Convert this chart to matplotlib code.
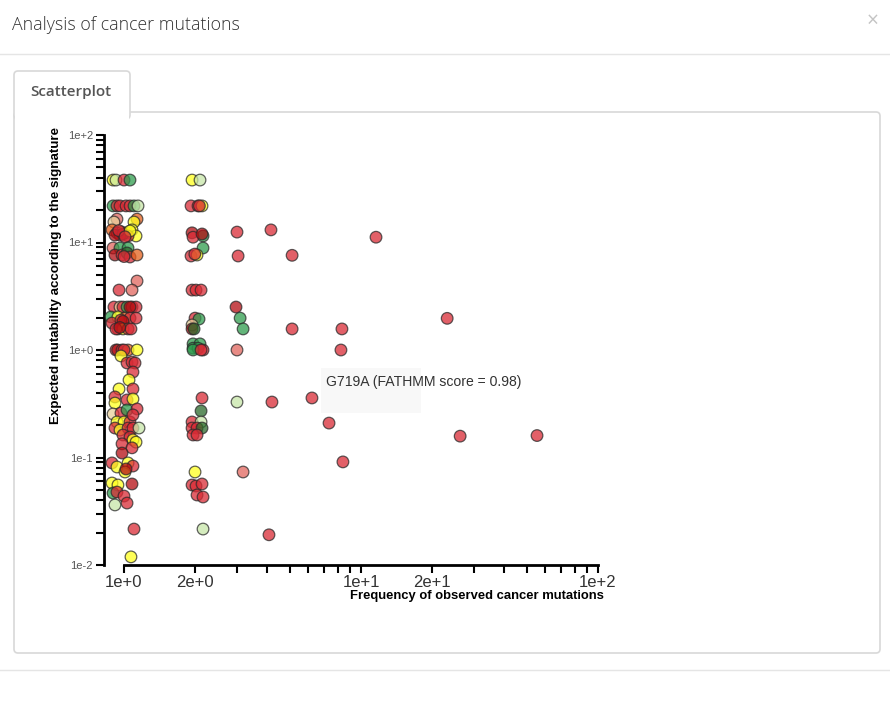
import matplotlib.pyplot as plt
from matplotlib.patches import FancyBboxPatch, Rectangle
from matplotlib.ticker import FixedLocator, FixedFormatter, NullFormatter, LogLocator

plt.rcParams['font.family'] = ['Liberation Sans', 'DejaVu Sans']

# mutation frequency (jittered), expected mutability, colour class (FATHMM score band)
freq = [
    # around 1
    0.899, 0.925, 1.0, 1.06,
    0.899, 0.934, 0.962, 1.02, 1.06, 1.102, 1.146,
    0.934, 1.135, 0.907, 1.102, 0.89, 0.934, 0.981, 1.03, 1.081, 1.124, 1.04, 0.962, 0.916, 0.99, 1.06, 0.95, 1.01,
    0.899, 0.962, 1.04, 0.916, 0.981, 1.03, 1.06, 1.135, 1.0,
    1.135, 0.953, 1.081,
    0.907, 0.962, 0.99, 1.03, 1.081, 1.124, 1.06,
    0.881, 0.943, 1.01, 1.06, 1.124, 0.89, 0.97, 0.99,
    0.943, 0.99, 1.04, 0.925, 1.07, 0.96,
    0.925, 0.94, 0.981, 1.04, 1.135, 1.0,
    0.971, 1.03, 1.081, 1.113, 1.091, 1.05, 0.953, 1.091, 0.916, 0.916, 1.03, 1.091,
    0.899, 0.971, 1.03, 1.135, 0.934, 1.0, 1.06, 1.091, 0.916, 0.962, 1.04, 1.091, 1.157,
    0.99, 1.06, 1.091, 1.124, 0.981, 1.081, 0.981,
    0.89, 0.934, 1.04, 1.091, 1.01, 1.02, 0.89, 0.943, 1.081, 0.899, 0.934, 1.0, 1.03, 0.916,
    1.102, 1.07,
    # around 2
    1.937, 2.093,
    1.918, 2.053, 2.134, 2.08,
    2.155, 1.937, 1.956, 2.134,
    2.155, 1.918, 2.033, 1.99,
    1.937, 2.013, 2.114,
    1.994, 2.073, 1.937, 1.937, 1.975,
    1.956, 2.093, 1.956, 2.053, 2.155, 1.956, 2.114,
    2.134, 2.114, 1.937, 2.114, 1.937, 2.033, 2.134, 1.956, 2.033,
    1.994, 1.937, 2.013, 2.134, 2.033, 2.155, 2.155,
    # sparse
    2.998, 4.17, 11.57, 3.03, 5.12, 2.969, 3.09, 3.18, 5.12, 8.31, 2.998, 8.23, 23.1,
    2.998, 4.21, 6.21, 7.33, 8.39, 26.2, 55.3, 3.18, 4.09,
]
mut = [
    38.1, 38.1, 38.1, 38.1,
    21.9, 21.9, 21.9, 21.9, 21.9, 21.9, 21.9,
    16.5, 16.5, 15.5, 15.5, 13.1, 12.3, 12.5, 12.3, 13.1, 11.5, 11.5, 11.7, 11.7, 12.0, 12.8, 12.9, 11.3,
    8.89, 8.89, 8.89, 7.65, 7.65, 7.99, 7.33, 7.65, 7.4,
    4.38, 3.61, 3.61,
    2.51, 2.51, 2.51, 2.51, 2.51, 2.51, 2.51,
    2.03, 2.03, 1.98, 1.98, 1.98, 1.78, 1.9, 1.85,
    1.57, 1.57, 1.57, 1.57, 1.57, 1.62,
    1.0, 1.0, 1.0, 1.0, 1.0, 1.0,
    0.88, 0.757, 0.773, 0.757, 0.624, 0.526, 0.434, 0.434, 0.366, 0.321, 0.343, 0.350,
    0.254, 0.259, 0.277, 0.283, 0.214, 0.214, 0.214, 0.249, 0.188, 0.180, 0.188, 0.188, 0.188,
    0.162, 0.155, 0.146, 0.139, 0.134, 0.123, 0.110,
    0.089, 0.0816, 0.089, 0.0833, 0.0733, 0.0782, 0.0579, 0.0555, 0.0567, 0.0467, 0.0477, 0.0438, 0.0377, 0.0362,
    0.0216, 0.0119,
    38.1, 38.1,
    21.9, 21.9, 21.9, 21.9,
    11.5, 12.3, 11.2, 12.0,
    8.89, 7.49, 7.65, 7.8,
    3.61, 3.61, 3.61,
    1.98, 1.94, 1.71, 1.57, 1.57,
    1.14, 1.14, 1.04, 1.04, 1.0, 1.0, 1.0,
    0.358, 0.271, 0.214, 0.214, 0.188, 0.188, 0.188, 0.162, 0.162,
    0.0733, 0.0555, 0.0543, 0.0567, 0.0448, 0.0429, 0.0216,
    12.5, 13.1, 11.2, 7.49, 7.6, 2.51, 1.98, 1.57, 1.57, 1.57, 1.0, 1.0, 1.97,
    0.328, 0.328, 0.358, 0.209, 0.091, 0.158, 0.16, 0.0733, 0.0191,
]
kind = list(
    "ylrg"
    "grrrrgl"
    "sotyororyyrrddyrr"
    "sggdrkror"
    "srs"
    "rtrgrrd"
    "gyorrrrd"
    "ryrrrd"
    "rdroyr"
    "yrrrryyrryry"
    "trgryyrrryrrl"
    "rryyrrd"
    "ryyrydyydgrrrl"
    "ry"
    "yl"
    "rryr"
    "gdrd"
    "gryr"
    "rrr"
    "rgtdk"
    "ggggrgr"
    "rkrlrrkrr"
    "yrrrrrl"
    "rrrrrdggrrsrr"
    "lrrrrrrsr"
)

palette = {
    'r': '#d92b35', 'd': '#b30d12', 's': '#e1665e', 'o': '#e5601c',
    'y': '#ffff1f', 't': '#e8cf9a', 'l': '#c8e6a8', 'g': '#2f9c4e', 'k': '#2b6a2b',
}

x_ticks = [1, 2, 10, 20, 100]
x_labels = ['1e+0', '2e+0', '1e+1', '2e+1', '1e+2']
x_minor = [3, 4, 5, 6, 7, 8, 9, 30, 40, 50, 60, 70, 80, 90]
y_ticks = [0.01, 0.1, 1, 10, 100]
y_labels = ['1e-2', '1e-1', '1e+0', '1e+1', '1e+2']

W, H = 890, 701
fig = plt.figure(figsize=(W / 100, H / 100), dpi=100)
fig.patch.set_facecolor('white')

ax = fig.add_axes([104 / W, 1 - 565 / H, (598 - 104) / W, (565 - 135) / H])
ax.set_xscale('log')
ax.set_yscale('log')
ax.set_xlim(10 ** (-20 / 237), 100)
ax.set_ylim(0.01, 100)

ax.scatter(freq, mut, c=[palette[k] for k in kind], s=70, alpha=0.75,
           edgecolors='#2a2a2a', linewidths=0.9, zorder=3, clip_on=False)

for side in ['top', 'right']:
    ax.spines[side].set_visible(False)
ax.spines['left'].set_linewidth(2)
ax.spines['bottom'].set_linewidth(2)
ax.spines['bottom'].set_bounds(1, 100)

ax.xaxis.set_major_locator(FixedLocator(x_ticks))
ax.xaxis.set_major_formatter(FixedFormatter(x_labels))
ax.xaxis.set_minor_locator(FixedLocator(x_minor))
ax.xaxis.set_minor_formatter(NullFormatter())
ax.yaxis.set_major_locator(FixedLocator(y_ticks))
ax.yaxis.set_major_formatter(FixedFormatter(y_labels))
ax.yaxis.set_minor_locator(LogLocator(base=10, subs=range(2, 10)))
ax.yaxis.set_minor_formatter(NullFormatter())
ax.tick_params(which='both', length=6, width=1.5, color='black')
ax.tick_params(axis='x', labelsize=12, labelcolor='#333333', pad=1.5)
ax.tick_params(axis='y', labelsize=8, labelcolor='#555555', pad=2)

fig.text(604 / W, 1 - 596 / H, 'Frequency of observed cancer mutations',
         ha='right', va='center', fontsize=9.4, fontweight='bold', color='black')
fig.text(56 / W, 1 - 276 / H, 'Expected mutability according to the signature',
         ha='center', va='center', rotation=90, fontsize=9.6, fontweight='bold', color='black')

# dialog chrome drawn in pixel space on top
ov = fig.add_axes([0, 0, 1, 1], zorder=5)
ov.set_xlim(0, W)
ov.set_ylim(H, 0)
ov.axis('off')
ov.patch.set_alpha(0)

ov.text(12, 25, 'Analysis of cancer mutations', fontsize=12.8, color='#333333',
        family=['Open Sans', 'DejaVu Sans'], fontweight='light', va='center', ha='left')
ov.text(873, 21, '×', fontsize=15, color='#c4c4c4', va='center', ha='center',
        family=['Open Sans', 'DejaVu Sans'])
ov.plot([0, W], [54, 54], color='#e5e5e5', lw=1)
ov.plot([0, W], [670, 670], color='#e5e5e5', lw=1)

ov.add_patch(FancyBboxPatch((14, 112), 866, 541, boxstyle='round,pad=0,rounding_size=4',
                            fc='none', ec='#d8d8d8', lw=1.2))
ov.add_patch(FancyBboxPatch((14, 71), 116, 48, boxstyle='round,pad=0,rounding_size=4',
                            fc='white', ec='#d8d8d8', lw=1.2))
ov.add_patch(Rectangle((15, 110), 114, 12, fc='white', ec='none'))
ov.text(30, 92, 'Scatterplot', fontsize=11, color='#555555', fontweight='semibold',
        family=['Open Sans', 'DejaVu Sans'], va='center', ha='left')

ov.add_patch(Rectangle((321, 368), 100, 45, fc='#f8f8f8', ec='none'))
ov.text(326, 382, 'G719A (FATHMM score = 0.98)', fontsize=10.1, color='#333333',
        va='center', ha='left')

fig.savefig('out.png', dpi=100)
